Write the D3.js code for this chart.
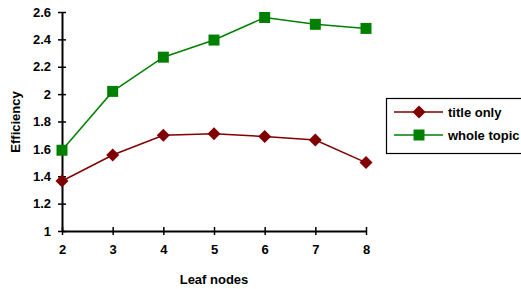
<!DOCTYPE html>
<html><head><meta charset="utf-8">
<script src="https://cdn.jsdelivr.net/npm/d3@7"></script>
<style>body{margin:0;background:#fff}svg{display:block;font-family:"Liberation Sans",Arial,sans-serif;font-weight:bold}</style>
</head><body><svg id="c" width="521" height="289"></svg>
<script>
const leafNodes = [2, 3, 4, 5, 6, 7, 8];
const titleOnly = [1.365, 1.555, 1.70, 1.71, 1.69, 1.665, 1.50];
const wholeTopic = [1.59, 2.02, 2.27, 2.395, 2.56, 2.51, 2.48];
const yTicks = [1, 1.2, 1.4, 1.6, 1.8, 2, 2.2, 2.4, 2.6];
const seriesNames = ["title only", "whole topic"];
const colors = ["#800000", "#008000"];
const FS = 13;

const svg = d3.select("#c");
const x = d3.scaleLinear().domain([2, 8]).range([62, 366]);
const y = d3.scaleLinear().domain([1, 2.6]).range([231, 12]);

const yAxis = d3.axisLeft(y).tickValues(yTicks).tickFormat(d => String(+d.toFixed(1))).tickSizeInner(4).tickSizeOuter(0).tickPadding(7);
const gy = svg.append("g").attr("transform", "translate(62,0)").call(yAxis);
gy.selectAll(".tick line").attr("x2", 4).attr("x1", -4);
const xAxis = d3.axisBottom(x).tickValues(leafNodes).tickFormat(d3.format("d")).tickSizeInner(4).tickSizeOuter(0).tickPadding(10);
const gx = svg.append("g").attr("transform", "translate(0,231)").call(xAxis);
gx.selectAll(".tick line").attr("y1", -4).attr("y2", 4);
[gx, gy].forEach(g => {
  g.select(".domain").attr("stroke", "#000").attr("stroke-width", 2);
  g.selectAll(".tick line").attr("stroke", "#000").attr("stroke-width", 1.5);
  g.selectAll("text").attr("font-size", FS).attr("font-weight", "bold").attr("font-family", "Liberation Sans, Arial, sans-serif").attr("fill", "#000");
});
gx.selectAll("text").attr("dy", "0.71em");

svg.append("text").attr("x", 214).attr("y", 284).attr("text-anchor", "middle").attr("font-size", FS).text("Leaf nodes");
svg.append("text").attr("transform", "translate(20,122) rotate(-90)").attr("text-anchor", "middle").attr("font-size", FS).text("Efficiency");

const line = d3.line().x((d, i) => x(leafNodes[i])).y(d => y(d));
const data = [titleOnly, wholeTopic];

function drawMarker(g, k, cx, cy) {
  if (k === 0) {
    g.append("path").attr("d", `M${cx},${cy - 6.5}L${cx + 6.5},${cy}L${cx},${cy + 6.5}L${cx - 6.5},${cy}Z`).attr("fill", colors[0]);
  } else {
    g.append("rect").attr("x", cx - 5.5).attr("y", cy - 5.5).attr("width", 11).attr("height", 11).attr("fill", colors[1]);
  }
}

data.forEach((vals, k) => {
  svg.append("path").datum(vals).attr("d", line).attr("fill", "none").attr("stroke", colors[k]).attr("stroke-width", 1.5);
  const g = svg.append("g");
  vals.forEach((v, i) => drawMarker(g, k, x(leafNodes[i]), y(v)));
});

const lg = svg.append("g");
lg.append("rect").attr("x", 386.5).attr("y", 98.5).attr("width", 145).attr("height", 55).attr("fill", "#fff").attr("stroke", "#000").attr("stroke-width", 1.2);
seriesNames.forEach((name, k) => {
  const ly = 112 + k * 23;
  lg.append("line").attr("x1", 394).attr("x2", 443).attr("y1", ly).attr("y2", ly).attr("stroke", colors[k]).attr("stroke-width", 1.5);
  drawMarker(lg, k, 419, ly);
  lg.append("text").attr("x", 448).attr("y", ly + 5).attr("font-size", FS).text(name);
});
</script></body></html>
